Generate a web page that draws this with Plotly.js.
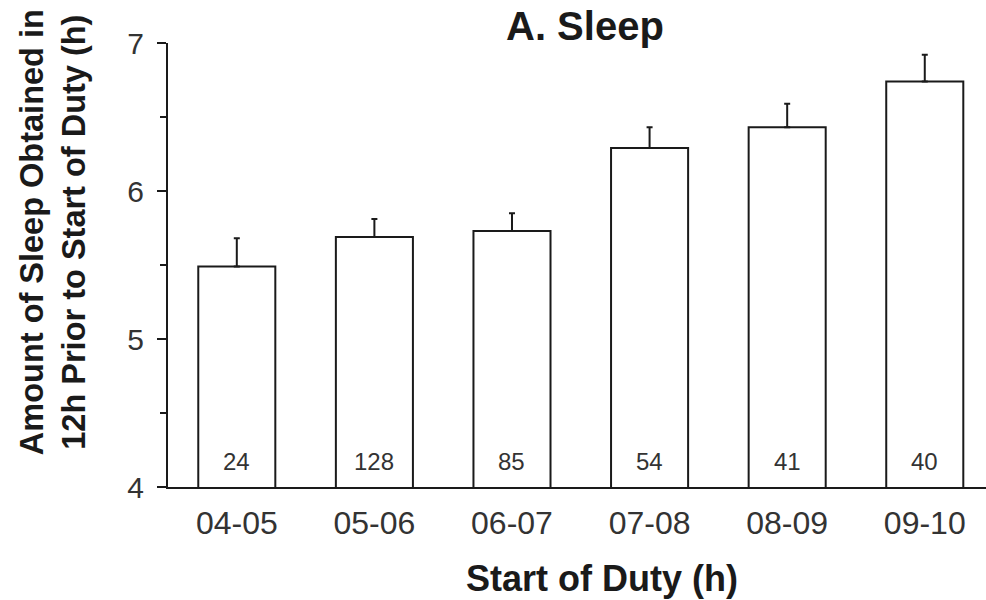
<!DOCTYPE html>
<html>
<head>
<meta charset="utf-8">
<script src="https://cdn.plot.ly/plotly-3.0.1.min.js"></script>
<style>html,body{margin:0;padding:0;background:#fff;}#chart{width:986px;height:600px;}</style>
</head>
<body>
<div id="chart"></div>
<script>
const categories = ["04-05", "05-06", "06-07", "07-08", "08-09", "09-10"];
const sleepHours = [5.49, 5.69, 5.73, 6.29, 6.43, 6.74];
const errorUpper = [0.19, 0.12, 0.12, 0.14, 0.16, 0.18];
const sampleSizes = [24, 128, 85, 54, 41, 40];
const yTicks = [4, 5, 6, 7];

const FONT = "Liberation Sans, Arial, sans-serif";
const INK = "#1a1a1a";
const GREY = "#333";

const trace = {
  type: "bar",
  x: categories,
  y: sleepHours,
  width: 0.56,
  marker: {color: "#ffffff", line: {color: INK, width: 2}},
  error_y: {
    type: "data", symmetric: false,
    array: errorUpper,
    arrayminus: errorUpper.map(() => 0),
    width: 3, thickness: 2, color: INK
  },
  hoverinfo: "skip"
};

const annotations = categories.map((c, i) => ({
  x: c, y: 4, xref: "x", yref: "y",
  text: String(sampleSizes[i]),
  showarrow: false, yanchor: "bottom", yshift: 10,
  font: {family: FONT, size: 24, color: GREY}
}));
annotations.push({
  xref: "paper", yref: "paper", x: 0.51, y: 1.038, yanchor: "middle", xanchor: "center",
  text: "<b>A. Sleep</b>", showarrow: false,
  font: {family: FONT, size: 40, color: INK}
});
annotations.push({
  xref: "paper", yref: "paper", x: 0.53, y: -0.205, yanchor: "middle", xanchor: "center",
  text: "<b>Start of Duty (h)</b>", showarrow: false,
  font: {family: FONT, size: 36, color: INK}
});
annotations.push({
  xref: "paper", yref: "paper", x: 0, xshift: -115, y: 0.574, yanchor: "middle", xanchor: "center",
  textangle: -90,
  text: "<b>Amount of Sleep Obtained in<br>12h Prior to Start of Duty (h)</b>", showarrow: false,
  font: {family: FONT, size: 32.5, color: INK}
});

const layout = {
  width: 986, height: 600,
  margin: {l: 168, r: 0, t: 43, b: 113},
  paper_bgcolor: "#fff", plot_bgcolor: "#fff",
  showlegend: false,
  font: {family: FONT, color: INK},
  xaxis: {
    type: "category",
    range: [-0.5, 5.445],
    showline: true, linecolor: INK, linewidth: 2,
    ticks: "", showgrid: false, zeroline: false,
    ticklabelstandoff: 7,
    tickfont: {family: FONT, size: 32, color: GREY}
  },
  yaxis: {
    range: [4, 7],
    tickvals: yTicks,
    ticktext: yTicks.map(String),
    showline: true, linecolor: INK, linewidth: 2,
    ticks: "outside", ticklen: 9, tickwidth: 2, tickcolor: INK,
    minor: {dtick: 0.5, ticks: "outside", ticklen: 6, tickwidth: 2, tickcolor: INK, showgrid: false},
    showgrid: false, zeroline: false,
    ticklabelstandoff: 7,
    tickfont: {family: FONT, size: 30, color: GREY}
  },
  annotations: annotations
};

Plotly.newPlot("chart", [trace], layout, {displayModeBar: false, staticPlot: true});
</script>
</body>
</html>
